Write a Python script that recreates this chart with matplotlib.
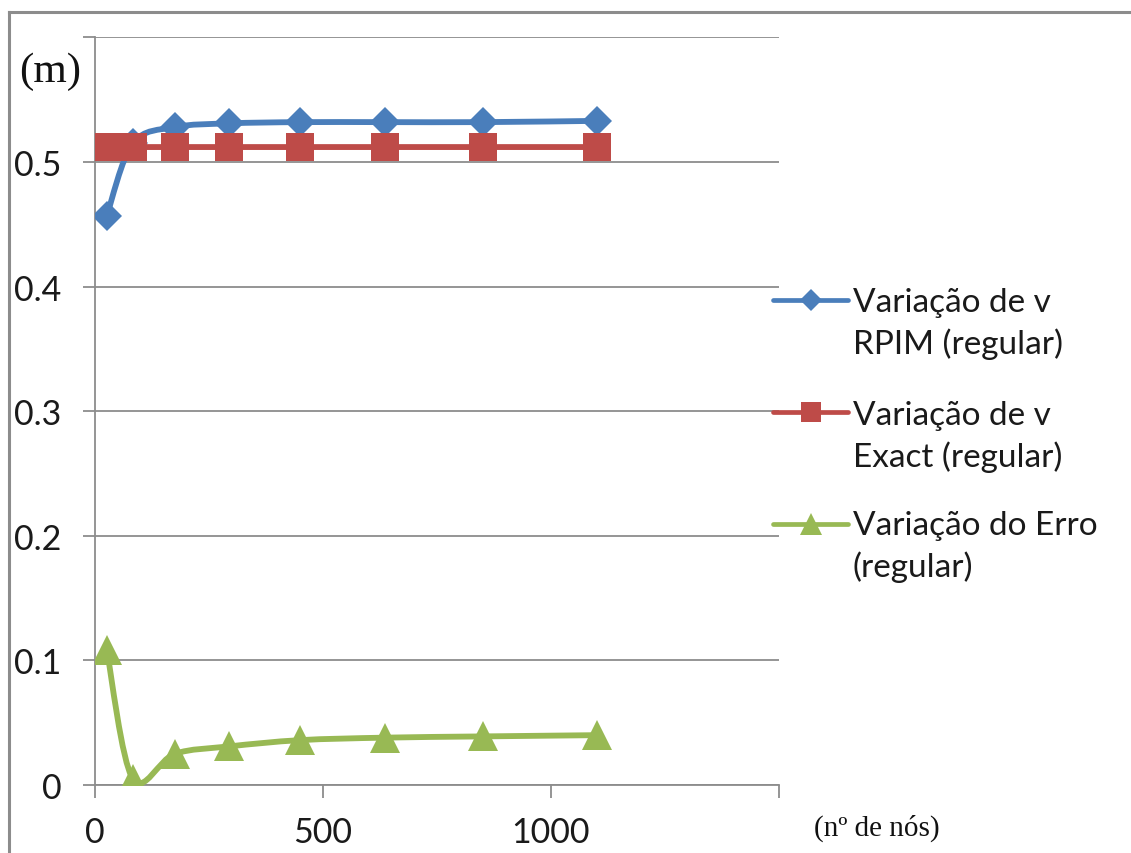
import numpy as np
import matplotlib
matplotlib.use("Agg")
import matplotlib.pyplot as plt
from matplotlib.path import Path
from matplotlib.patches import PathPatch
from matplotlib.lines import Line2D

# numero de nos (malha regular) e deslocamentos v em metros
nos = [26, 83, 175, 295, 450, 636, 851, 1101]
v_rpim = [0.457, 0.515, 0.528, 0.531, 0.532, 0.532, 0.532, 0.533]
v_exact = [0.512, 0.512, 0.512, 0.512, 0.512, 0.512, 0.512, 0.512]
erro = [0.108, 0.005, 0.025, 0.031, 0.036, 0.038, 0.039, 0.040]

rotulos = ["Variação de v\nRPIM (regular)",
           "Variação de v\nExact (regular)",
           "Variação do Erro\n(regular)"]
cores = ["#4A7EBB", "#BE4B48", "#98B954"]
marcadores = ["D", "s", "^"]
tam_marc = [15, 20, 21]

plt.rcParams["font.family"] = ["Lato", "DejaVu Sans"]

W, H = 1131, 854


def px(x, y):
    # pixel -> coordenadas da figura
    return x / W, 1 - y / H


def curva_suave(xs, ys):
    # curva de Bezier pelos pontos, como o "linha suavizada" do Excel
    p = np.column_stack([xs, ys]).astype(float)
    n = len(p)
    verts = [p[0]]
    codes = [Path.MOVETO]
    for i in range(n - 1):
        p0 = p[max(i - 1, 0)]
        p1 = p[i]
        p2 = p[i + 1]
        p3 = p[min(i + 2, n - 1)]
        verts += [p1 + (p2 - p0) / 6, p2 - (p3 - p1) / 6, p2]
        codes += [Path.CURVE4] * 3
    return Path(verts, codes)


fig = plt.figure(figsize=(W / 100, H / 100), dpi=100)
ax = fig.add_axes([95 / W, 1 - 786 / H, (778.5 - 95) / W, (786 - 38.4) / H])

series = [v_rpim, v_exact, erro]
for k, ys in enumerate(series):
    patch = PathPatch(curva_suave(nos, ys), fill=False, edgecolor=cores[k],
                      lw=4.2, capstyle="round", joinstyle="round",
                      zorder=3 + k)
    ax.add_patch(patch)
    ax.plot(nos, ys, ls="none", marker=marcadores[k], ms=tam_marc[k],
            color=cores[k], mec=cores[k], mew=0, zorder=3.5 + k)

ax.set_xlim(0, 1500)
ax.set_ylim(0, 0.6)
ax.set_xticks([0, 500, 1000, 1500])
ax.set_xticklabels(["0", "500", "1000", ""])
ax.set_yticks([0, 0.1, 0.2, 0.3, 0.4, 0.5, 0.6])
ax.set_yticklabels(["0", "0.1", "0.2", "0.3", "0.4", "0.5", ""])

cinza = "#8c8c8c"
ax.yaxis.grid(True, color=cinza, lw=1.3, zorder=0)
ax.set_axisbelow(True)
for lado in ["top", "right"]:
    ax.spines[lado].set_visible(False)
for lado in ["left", "bottom"]:
    ax.spines[lado].set_color(cinza)
    ax.spines[lado].set_linewidth(1.3)
ax.tick_params(axis="both", direction="out", length=9, width=1.3,
               color=cinza, labelsize=24.5, labelcolor="#1a1a1a")
ax.tick_params(axis="y", pad=15)
ax.tick_params(axis="x", pad=13)

# unidades dos eixos
fig.text(*px(50, 72), "(m)", family="Liberation Serif", fontsize=31,
         ha="center", va="center", color="#111111")
fig.text(*px(877, 828), "(nº de nós)", family="Liberation Serif",
         fontsize=21, ha="center", va="center", color="#111111")

# legenda
y_marc = [301, 413, 525]
y_txt = [324, 437, 547]
for k in range(3):
    x0, y0 = px(773, y_marc[k])
    x1, _ = px(848, y_marc[k])
    xm, _ = px(811, y_marc[k])
    fig.add_artist(Line2D([x0, x1], [y0, y0], color=cores[k], lw=3.4,
                          solid_capstyle="round", transform=fig.transFigure))
    fig.add_artist(Line2D([xm], [y0], ls="none", marker=marcadores[k],
                          ms=tam_marc[k] * 0.75, color=cores[k], mew=0,
                          transform=fig.transFigure))
    fig.text(*px(853, y_txt[k]), rotulos[k], fontsize=24, va="center",
             ha="left", color="#1a1a1a", linespacing=1.4)

# moldura externa
fig.add_artist(Line2D([9 / W, 1.0], [1 - 13 / H, 1 - 13 / H], color=cinza,
                      lw=2.2, transform=fig.transFigure))
fig.add_artist(Line2D([9 / W, 9 / W], [0.0, 1 - 13 / H], color=cinza,
                      lw=2.2, transform=fig.transFigure))

fig.savefig("out.png", dpi=100)
